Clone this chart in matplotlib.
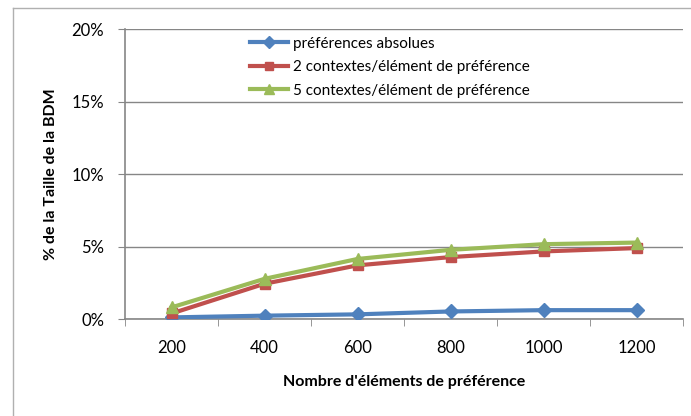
import numpy as np
import matplotlib
matplotlib.use('Agg')
import matplotlib.pyplot as plt
from matplotlib.lines import Line2D
from matplotlib.ticker import FuncFormatter

categories = ['200', '400', '600', '800', '1000', '1200']
pref_abs = [0.11, 0.23, 0.32, 0.52, 0.61, 0.61]
ctx2 = [0.38, 2.43, 3.70, 4.27, 4.66, 4.89]
ctx5 = [0.80, 2.77, 4.14, 4.77, 5.16, 5.27]

plt.rcParams['font.family'] = ['Lato', 'DejaVu Sans']

fig = plt.figure(figsize=(6.91, 4.16), dpi=100)
ax = fig.add_axes([125 / 691, 1 - 319 / 416, 558 / 691, 290 / 416])

x = np.arange(len(categories))
grey = '#868686'

ax.plot(x, pref_abs, color='#4F81BD', lw=3, marker='D', ms=7, label='préférences absolues', zorder=3)
ax.plot(x, ctx2, color='#C0504D', lw=3, marker='s', ms=7, label='2 contextes/élément de préférence', zorder=3)
ax.plot(x, ctx5, color='#9BBB59', lw=3, marker='^', ms=8, label='5 contextes/élément de préférence', zorder=3)

ax.set_xlim(-0.5, 5.5)
ax.set_ylim(0, 20)
ax.set_yticks([0, 5, 10, 15, 20])
ax.yaxis.set_major_formatter(FuncFormatter(lambda v, p: '%d%%' % v))
ax.set_xticks(x)
ax.set_xticklabels(categories)
ax.set_xticks(np.arange(-0.5, 6, 1), minor=True)
ax.tick_params(axis='x', which='major', length=0, pad=15, labelsize=12)
ax.tick_params(axis='x', which='minor', length=5, color=grey, direction='out')
ax.tick_params(axis='y', length=5, color=grey, labelsize=12, pad=10)

ax.grid(axis='y', color=grey, lw=1)
ax.set_axisbelow(True)
for s in ['top', 'right']:
    ax.spines[s].set_visible(False)
for s in ['left', 'bottom']:
    ax.spines[s].set_color(grey)
    ax.spines[s].set_linewidth(1.2)

ax.set_ylabel('% de la Taille de la BDM', fontsize=11.5, fontweight='bold', labelpad=10)
ax.set_xlabel("Nombre d'éléments de préférence", fontsize=11.5, fontweight='bold', labelpad=14)

leg = ax.legend(loc='upper left', bbox_to_anchor=(236 / 691, 1 - 23 / 416), bbox_transform=fig.transFigure,
                frameon=False, fontsize=11, handlelength=2.5, labelspacing=0.62, handletextpad=0.3,
                markerscale=0.85)

# outer chart border
fig.add_artist(Line2D([12.5 / 691, 12.5 / 691], [0, 1 - 8 / 416], color='#b0b0b0', lw=1))
fig.add_artist(Line2D([12.5 / 691, 1], [1 - 8 / 416, 1 - 8 / 416], color='#b0b0b0', lw=1))

plt.savefig('out.png', dpi=100)
